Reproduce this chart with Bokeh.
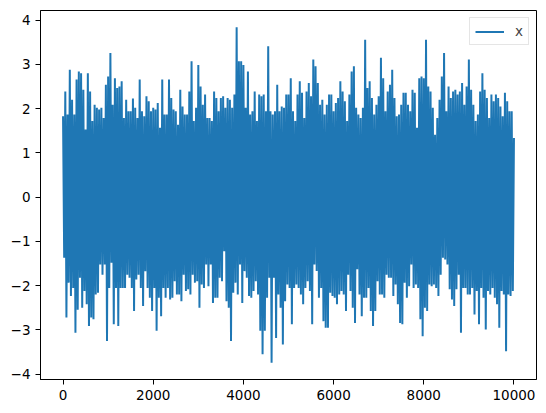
from bokeh.plotting import figure
from bokeh.models import Range1d, FixedTicker
from bokeh.embed import file_html
from bokeh.resources import INLINE

# envelope of the series, one pair every 50 samples
step = 50
upper = [1.83, 2.39, 1.87, 2.88, 2.2, 1.87, 2.66, 2.84, 2.8, 2.43, 1.53, 2.8, 2.39, 1.72, 2.09, 2.02, 1.98, 2.02, 1.79, 2.54, 2.73, 3.26, 2.09, 2.69, 2.47, 2.5,
         2.62, 1.79, 2.2, 1.94, 1.94, 2.23, 2.02, 1.79, 2.66, 1.94, 1.83, 2.28, 2.17, 1.94, 2.02, 1.98, 2.13, 1.57, 2.66, 1.87, 1.87, 2.66, 2.24, 1.98, 1.94,
         1.64, 2.43, 2.05, 1.87, 1.87, 2.39, 3.07, 1.72, 2.02, 2.99, 2.5, 2.09, 2.32, 1.79, 1.79, 1.72, 2.39, 2.24, 1.94, 2.24, 2.28, 2.02, 2.24, 2.2, 2.02, 2.32,
         3.84, 3.07, 3.07, 2.99, 2.02, 2.84, 1.87, 1.94, 2.39, 1.72, 2.32, 2.28, 2.32, 1.94, 3.41, 1.94, 1.87, 1.94, 2.54, 1.94, 2.05, 2.02, 2.32, 2.32, 2.69, 1.94,
         1.72, 2.32, 2.62, 2.36, 1.79, 2.39, 2.58, 2.28, 3.11, 2.96, 2.58, 2.09, 2.2, 1.87, 2.09, 2.32, 2.32, 1.94, 2.13, 2.24, 2.62, 2.39, 2.17, 1.72, 2.32,
         2.84, 2.96, 2.02, 1.87, 1.79, 2.02, 3.56, 2.47, 2.62, 2.24, 1.87, 2.09, 2.28, 3.15, 2.69, 1.94, 2.39, 2.54, 2.88, 2.24, 1.83, 1.87, 2.09, 2.36, 2.36, 2.09,
         1.94, 2.43, 2.36, 1.57, 2.69, 2.73, 2.69, 3.56, 2.5, 2.39, 2.02, 1.41, 1.79, 2.2, 2.73, 3.26, 1.94, 2.5, 2.24, 2.39, 2.43, 2.32, 2.39, 2.58, 2.09, 2.5,
         3.11, 2.43, 2.09, 1.72, 1.87, 2.39, 2.8, 2.43, 2.24, 1.79, 2.32, 2.17, 2.32, 2.24, 2.05, 1.83, 2.36, 2.17, 1.94, 1.94, 1.34]
lower = [-1.37, -2.72, -1.93, -2.23, -2.05, -3.06, -2.54, -1.82, -2.5, -2.12, -2.42, -2.91, -2.72, -2.76, -2.2, -2.16, -1.52, -1.75, -1.52, -3.25, -2.05, -1.48, -2.87, -2.05, -2.91, -2.05,
         -2.05, -2.05, -1.75, -1.82, -2.05, -2.57, -1.86, -1.75, -2.05, -2.46, -1.67, -2.05, -2.27, -2.57, -2.05, -3.02, -2.27, -2.69, -2.05, -2.27, -2.05, -2.31, -2.27, -1.9, -2.2,
         -2.2, -2.35, -1.75, -2.12, -2.08, -2.2, -1.75, -1.93, -1.9, -2.5, -1.97, -2.05, -1.52, -2.01, -1.52, -2.39, -2.27, -2.27, -1.82, -1.9, -1.22, -2.35, -2.5, -3.25, -2.16, -1.93,
         -2.2, -1.52, -2.39, -1.67, -1.82, -2.23, -2.27, -2.12, -1.9, -2.2, -3.02, -3.55, -3.02, -2.27, -1.82, -3.74, -1.82, -3.18, -2.2, -2.5, -3.33, -2.35, -1.97, -2.05, -2.87, -2.05,
         -1.97, -2.05, -2.2, -2.42, -2.05, -1.9, -2.12, -2.87, -1.52, -1.67, -2.27, -2.05, -2.8, -2.95, -2.95, -2.16, -2.23, -2.27, -2.42, -2.2, -2.12, -2.2, -2.57, -1.75, -2.12,
         -2.5, -2.84, -1.63, -2.2, -2.69, -2.27, -2.27, -2.05, -2.57, -2.91, -2.57, -1.9, -2.2, -2.2, -2.27, -1.75, -1.82, -1.82, -2.23, -1.97, -2.42, -2.84, -2.87, -1.93, -2.27, -2.01,
         -1.52, -2.05, -1.97, -2.05, -2.76, -3.14, -2.5, -2.57, -1.97, -2.01, -1.97, -2.05, -2.23, -1.75, -1.37, -1.41, -1.52, -2.08, -2.31, -2.46, -2.08, -1.75, -3.06, -2.05, -2.05, -2.2,
         -2.2, -2.05, -2.65, -2.12, -2.87, -2.05, -2.27, -2.99, -2.12, -2.2, -2.05, -2.27, -2.42, -2.95, -2.12, -2.2, -3.48, -2.2, -2.23, -2.12]
x_ticks = [0, 2000, 4000, 6000, 8000, 10000]
y_ticks = [-4, -3, -2, -1, 0, 1, 2, 3, 4]

xs, ys = [], []
for i, top in enumerate(upper):
    xs.append(i * step)
    ys.append(top)
    if i < len(lower):
        xs.append(i * step + step / 2)
        ys.append(lower[i])

pad_x = (max(xs) - min(xs)) * 0.05
pad_y = (max(ys) - min(ys)) * 0.05

p = figure(width=538, height=405, output_backend="svg", toolbar_location=None,
           x_range=Range1d(min(xs) - pad_x, max(xs) + pad_x),
           y_range=Range1d(min(ys) - pad_y, max(ys) + pad_y))
p.min_border_left = 40
p.min_border_right = 2
p.min_border_top = 10
p.min_border_bottom = 26
p.outline_line_color = "black"
p.outline_line_width = 1
p.grid.visible = False

p.line(xs, ys, line_color="#1f77b4", line_width=2, legend_label="x")

p.xaxis.ticker = FixedTicker(ticks=x_ticks)
p.yaxis.ticker = FixedTicker(ticks=y_ticks)
p.yaxis.major_label_overrides = {t: str(t).replace("-", "\u2212") for t in y_ticks}
for ax in (p.xaxis, p.yaxis):
    ax.axis_line_color = "black"
    ax.major_tick_line_color = "black"
    ax.major_tick_out = 5
    ax.major_tick_in = 0
    ax.minor_tick_line_color = None
    ax.major_label_text_font = "DejaVu Sans"
    ax.major_label_text_font_size = "13.5px"
    ax.major_label_text_color = "black"
    ax.major_label_standoff = 5

p.legend.location = "top_right"
p.legend.margin = 7
p.legend.padding = 5
p.legend.glyph_width = 29
p.legend.glyph_height = 15
p.legend.label_height = 15
p.legend.label_width = 8
p.legend.label_standoff = 11
p.legend.label_text_font = "DejaVu Sans"
p.legend.label_text_font_size = "13.5px"
p.legend.border_line_color = "#cccccc"
p.legend.background_fill_alpha = 0.8

open("out.html", "w").write(file_html(p, INLINE))
